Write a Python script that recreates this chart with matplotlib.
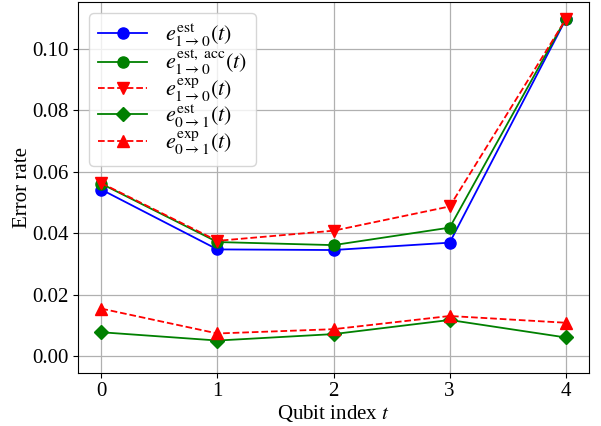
import matplotlib
matplotlib.use("Agg")
import matplotlib.pyplot as plt
import numpy as np

plt.rcParams["font.family"] = ["Liberation Serif", "DejaVu Serif"]
plt.rcParams["mathtext.fontset"] = "stix"
plt.rcParams["font.size"] = 15

qubits = np.array([0, 1, 2, 3, 4])
est_10 = [0.0542, 0.0347, 0.0345, 0.0369, 0.1097]
est_acc_10 = [0.0561, 0.0371, 0.0361, 0.0418, 0.1099]
exp_10 = [0.0563, 0.0375, 0.0408, 0.0487, 0.1097]
est_01 = [0.0077, 0.0050, 0.0071, 0.0117, 0.0060]
exp_01 = [0.0154, 0.0073, 0.0087, 0.0130, 0.0108]

labels = [
    r"$e^{\mathrm{est}}_{1\to 0}(t)$",
    r"$e^{\mathrm{est,\ acc}}_{1\to 0}(t)$",
    r"$e^{\mathrm{exp}}_{1\to 0}(t)$",
    r"$e^{\mathrm{est}}_{0\to 1}(t)$",
    r"$e^{\mathrm{exp}}_{0\to 1}(t)$",
]

fig, ax = plt.subplots(figsize=(6.01, 4.26), dpi=100)
fig.subplots_adjust(left=0.13, right=0.98, top=0.995, bottom=0.125)

ax.plot(qubits, est_10, "o-", color="blue", ms=8, lw=1.3, label=labels[0])
ax.plot(qubits, est_acc_10, "o-", color="green", ms=8, lw=1.3, label=labels[1])
ax.plot(qubits, exp_10, "v--", color="red", ms=8, lw=1.3, label=labels[2])
ax.plot(qubits, est_01, "D-", color="green", ms=7, lw=1.3, label=labels[3])
ax.plot(qubits, exp_01, "^--", color="red", ms=8, lw=1.3, label=labels[4])

ax.set_xticks(qubits)
ax.set_yticks(np.arange(0, 0.11, 0.02))
ax.set_ylim(-0.0055, 0.1153)
ax.grid(True, color="#b0b0b0", lw=0.9)
ax.set_xlabel(r"Qubit index $t$", labelpad=1)
ax.set_ylabel("Error rate", labelpad=0)
ax.legend(loc="upper left", labelspacing=-0.05, handlelength=2.2, fontsize=16,
          borderaxespad=0.5)

fig.savefig("out.png", dpi=100)
